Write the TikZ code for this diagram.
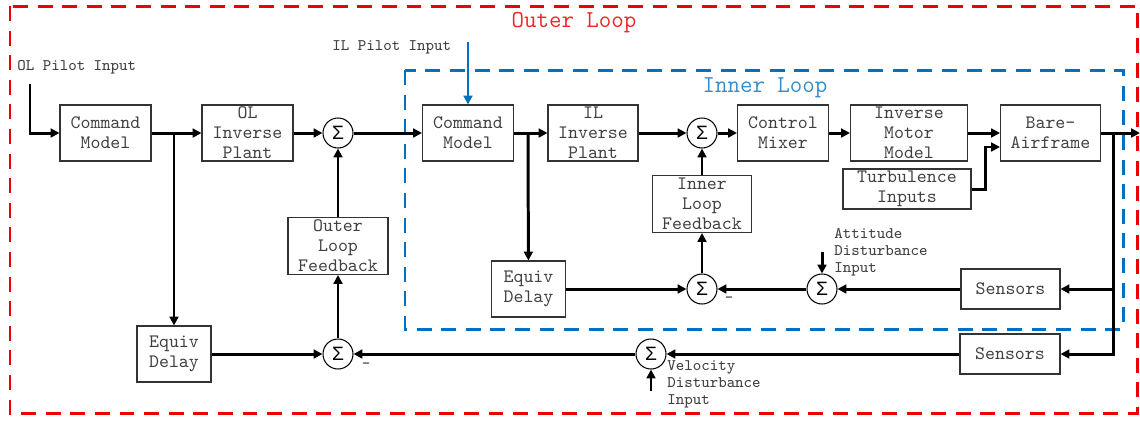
\documentclass[tikz,border=0pt]{standalone}
\usepackage{fontspec}
\newfontfamily\sigmafont{Liberation Sans}
\usetikzlibrary{arrows.meta}
\definecolor{olred}{RGB}{238,0,0}
\definecolor{ilblue}{RGB}{0,112,192}

\begin{document}
\begin{tikzpicture}[x=0.02cm, y=-0.02cm,
  blk/.style={draw=black!80, line width=0.6pt, text=black!75, align=center,
    minimum height=1.12cm, inner sep=0pt, font=\ttfamily\fontsize{10.8}{11.3}\selectfont},
  sum/.style={draw, circle, line width=0.6pt, minimum size=0.6cm, inner sep=0pt,
    font=\sigmafont\fontsize{11}{11}\selectfont},
  sig/.style={line width=1.7pt, -{Triangle[length=5pt,width=5pt]}},
  lbl/.style={text=black!75, align=left, inner sep=0pt, font=\ttfamily\fontsize{9.2}{9.6}\selectfont},
  ttl/.style={font=\ttfamily\fontsize{13.8}{14}\selectfont},
  loop/.style={line width=1.7pt, dash pattern=on 8.5pt off 5.5pt}]
\useasboundingbox (0,0) rectangle (1140,424);

\draw[loop, olred] (10,6) rectangle (1137,413);
\draw[loop, ilblue] (405,70) rectangle (1123,329);
\node[ttl, text=olred!85] (oltitle) at (574,23) {Outer Loop};
\node[ttl, text=ilblue!80] (iltitle) at (765,88) {Inner Loop};

\node[blk, minimum width=1.82cm] (cmo) at (105.5,133) {Command\\Model};
\node[blk, minimum width=1.82cm] (olip) at (247.5,133) {OL\\Inverse\\Plant};
\node[sum] (s1) at (338,133) {Σ};
\node[blk, minimum width=2cm, minimum height=1.14cm] (olf) at (338,246) {Outer\\Loop\\Feedback};
\node[blk, minimum width=1.48cm] (edo) at (174,354) {Equiv\\Delay};
\node[sum] (s2) at (338,354) {Σ};
\node[blk, minimum width=1.82cm] (cmi) at (468,133) {Command\\Model};
\node[blk, minimum width=1.8cm] (ilip) at (593,133) {IL\\Inverse\\Plant};
\node[sum] (s3) at (702,133) {Σ};
\node[blk, minimum width=1.82cm] (mix) at (783,133) {Control\\Mixer};
\node[blk, minimum width=2.34cm] (imm) at (909,133) {Inverse\\Motor\\Model};
\node[blk, minimum width=2cm] (ba) at (1050.5,133) {Bare-\\Airframe};
\node[blk, minimum width=2.56cm, minimum height=0.8cm] (turb) at (907,189) {Turbulence\\Inputs};
\node[blk, minimum width=1.98cm, minimum height=1.14cm] (ilf) at (702,204) {Inner\\Loop\\Feedback};
\node[blk, minimum width=1.48cm] (edi) at (528.5,289) {Equiv\\Delay};
\node[sum] (s5) at (702,289) {Σ};
\node[sum] (s4) at (822,289) {Σ};
\node[blk, minimum width=1.98cm, minimum height=0.8cm] (sni) at (1010.5,289) {Sensors};
\node[sum] (s6) at (651,354) {Σ};
\node[blk, minimum width=2cm, minimum height=0.8cm] (sno) at (1010,354) {Sensors};

\node[lbl, anchor=west] (olname) at (17,67) {OL Pilot Input};
\node[lbl, anchor=west] (ilname) at (332,47) {IL Pilot Input};
\node[lbl, anchor=west] (attname) at (834,252) {Attitude\\Disturbance\\Input};
\node[lbl, anchor=west] (velname) at (667,384) {Velocity\\Disturbance\\Input};
\node[lbl] (minus1) at (366,366) {-};
\node[lbl] (minus2) at (729,300) {-};

\coordinate (olin) at (30,84);
\coordinate (ilin) at (468,42);
\coordinate (tapo) at (174,133);
\coordinate (tapi) at (528,133);
\coordinate (tapb) at (1113,133);
\coordinate (out) at (1140,133);
\coordinate (attin) at (822,252);
\coordinate (velin) at (651,391);

\draw[sig] (olin) |- (cmo);
\draw[sig] (cmo) -- (olip);
\draw[sig] (tapo) -- (edo);
\draw[sig] (olip) -- (s1);
\draw[sig] (s1) -- (cmi);
\draw[sig, ilblue] (ilin) -- (cmi);
\draw[sig] (cmi) -- (ilip);
\draw[sig] (tapi) -- (edi);
\draw[sig] (ilip) -- (s3);
\draw[sig] (s3) -- (mix);
\draw[sig] (mix) -- (imm);
\draw[sig] (imm) -- (ba);
\draw[sig] (turb.east) -- ++(14,0) |- ([yshift=-0.28cm]ba.west);
\draw[sig] (ba) -- (out);
\draw[sig] (tapb) |- (sni);
\draw[sig] (tapb) |- (sno);
\draw[sig] (sni) -- (s4);
\draw[sig] (attin) -- (s4);
\draw[sig] (s4) -- (s5);
\draw[sig] (edi) -- (s5);
\draw[sig] (s5) -- (ilf);
\draw[sig] (ilf) -- (s3);
\draw[sig] (sno) -- (s6);
\draw[sig] (velin) -- (s6);
\draw[sig] (s6) -- (s2);
\draw[sig] (edo) -- (s2);
\draw[sig] (s2) -- (olf);
\draw[sig] (olf) -- (s1);
\end{tikzpicture}
\end{document}
